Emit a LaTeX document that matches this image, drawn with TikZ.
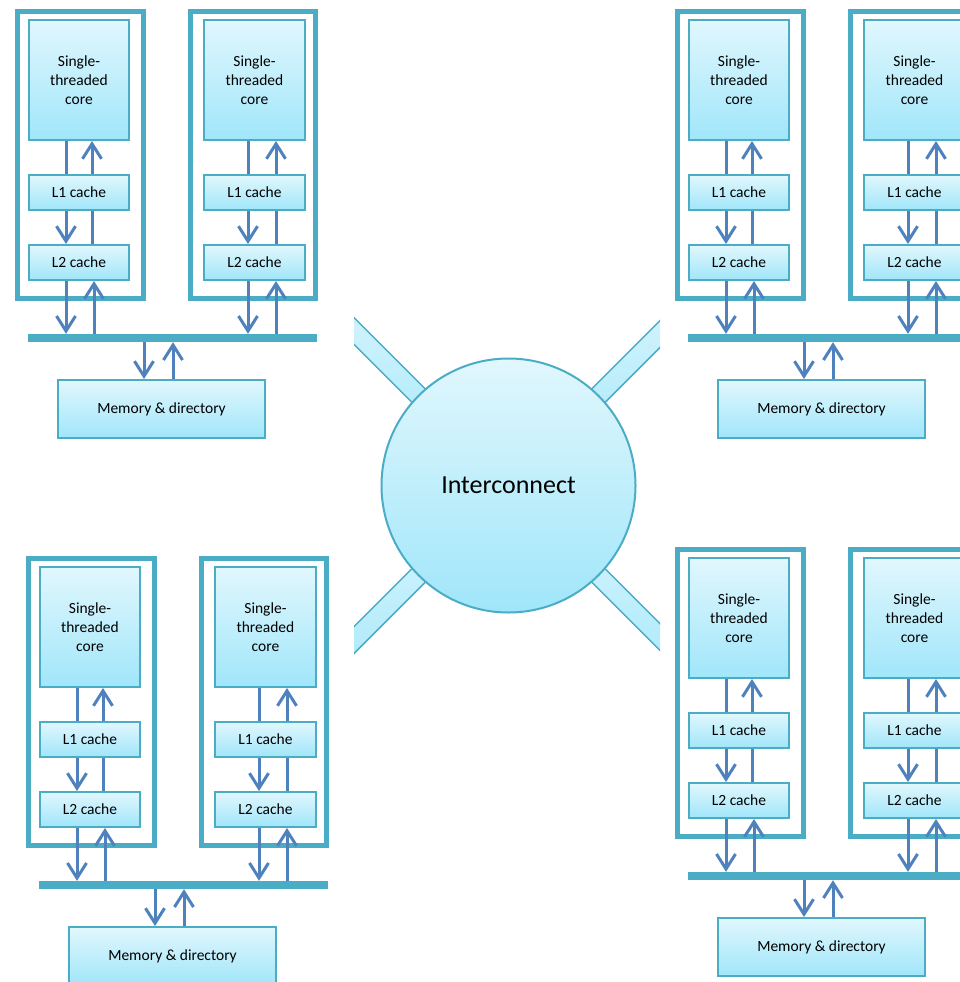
\documentclass[tikz,border=0pt]{standalone}
\usepackage{fontspec}
\setmainfont{Carlito}
\usetikzlibrary{arrows.meta}
\definecolor{frameteal}{RGB}{75,172,198}
\definecolor{arrowblue}{RGB}{79,129,189}
\definecolor{boxtop}{RGB}{225,247,253}
\definecolor{boxbot}{RGB}{160,230,250}

\tikzset{
  unitbox/.style={draw=frameteal, line width=2pt, top color=boxtop, bottom color=boxbot,
    inner sep=0pt, align=center, font=\fontsize{15.5}{19}\selectfont},
  frame/.style={draw=frameteal, line width=5pt, inner sep=0pt},
  busbar/.style={fill=frameteal, inner sep=0pt, minimum height=8pt},
  link/.style={draw=arrowblue, line width=3pt},
  arr/.style={link, -{Straight Barb[length=15pt,width=19pt]}},
  % one chip: two cores with their caches, a shared bus and the memory
  pics/cmp/.style={code={
    \node[frame, minimum width=126pt, minimum height=287pt] (f1) at (80.5,155) {};
    \node[frame, minimum width=125pt, minimum height=287pt] (f2) at (253,155) {};
    \node[unitbox, minimum width=100pt, minimum height=120pt] (c1) at (79,80) {Single-\\threaded\\core};
    \node[unitbox, minimum width=100pt, minimum height=35pt] (l1a) at (79,192.5) {L1 cache};
    \node[unitbox, minimum width=100pt, minimum height=35pt] (l2a) at (79,262.5) {L2 cache};
    \node[unitbox, minimum width=101pt, minimum height=120pt] (c2) at (254.5,80) {Single-\\threaded\\core};
    \node[unitbox, minimum width=101pt, minimum height=35pt] (l1b) at (254.5,192.5) {L1 cache};
    \node[unitbox, minimum width=101pt, minimum height=35pt] (l2b) at (254.5,262.5) {L2 cache};
    \node[busbar, minimum width=289pt] (bus) at (172.5,338) {};
    \node[unitbox, minimum width=207pt, minimum height=58pt] (mem) at (161.5,409) {Memory \& directory};
    % first core: down on the left, up on the right
    \draw[link] ([xshift=-13pt]c1.south) -- ([xshift=-13pt]l1a.north);
    \draw[arr]  ([xshift=-13pt]l1a.south) -- ([xshift=-13pt]l2a.north);
    \draw[link] ([xshift=13pt]l2a.north) -- ([xshift=13pt]l1a.south);
    \draw[arr]  ([xshift=13pt]l1a.north) -- ([xshift=13pt]c1.south);
    \draw[arr]  ([xshift=-13pt]l2a.south) -- ([xshift=-13pt]l2a.south |- bus.north);
    \draw[arr]  ([xshift=15pt]l2a.south |- bus.north) -- ([xshift=15pt]l2a.south);
    % second core
    \draw[link] ([xshift=-6.5pt]c2.south) -- ([xshift=-6.5pt]l1b.north);
    \draw[arr]  ([xshift=-6.5pt]l1b.south) -- ([xshift=-6.5pt]l2b.north);
    \draw[link] ([xshift=21.5pt]l2b.north) -- ([xshift=21.5pt]l1b.south);
    \draw[arr]  ([xshift=21.5pt]l1b.north) -- ([xshift=21.5pt]c2.south);
    \draw[arr]  ([xshift=-6.5pt]l2b.south) -- ([xshift=-6.5pt]l2b.south |- bus.north);
    \draw[arr]  ([xshift=21.5pt]l2b.south |- bus.north) -- ([xshift=21.5pt]l2b.south);
    % bus <-> memory
    \draw[arr]  ([xshift=-17.5pt]mem.north |- bus.south) -- ([xshift=-17.5pt]mem.north);
    \draw[arr]  ([xshift=11.5pt]mem.north) -- ([xshift=11.5pt]mem.north |- bus.south);
  }}
}

\begin{document}
\begin{tikzpicture}[x=1pt,y=-1pt]
  \useasboundingbox (0,0) rectangle (960,982);
  \clip (0,0) rectangle (960,982);

  % links leaving the interconnect, cut off on both sides
  \begin{scope}
    \clip (354,0) rectangle (660,982);
    \foreach \a in {45,135,225,315} {
      \begin{scope}[shift={(508.5,485.5)}, rotate=\a]
        \path[top color=boxtop, bottom color=boxbot] (0,-9.5) rectangle (320,9.5);
        \draw[frameteal, line width=1.5pt] (0,-9.5) -- (320,-9.5) (0,9.5) -- (320,9.5);
      \end{scope}
    }
  \end{scope}

  \node[circle, draw=frameteal, line width=2pt, top color=boxtop, bottom color=boxbot,
        minimum size=254pt, inner sep=0pt, font=\fontsize{26}{30}\selectfont]
        (ic) at (508.5,485.5) {Interconnect};

  \pic (tl) at (0,0) {cmp};
  \pic (tr) at (660,0) {cmp};
  \pic (bl) at (11,547) {cmp};
  \pic (br) at (660,538) {cmp};
\end{tikzpicture}
\end{document}
